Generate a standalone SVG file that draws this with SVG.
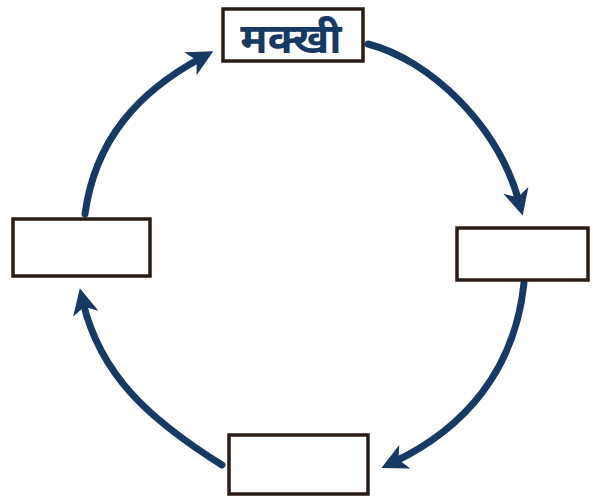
<svg xmlns="http://www.w3.org/2000/svg" width="593" height="500" viewBox="0 0 593 500">
  <style>
    .box { fill: #ffffff; stroke: #2a1c14; stroke-width: 3.5; }
    .flow { fill: none; stroke: #173a64; stroke-width: 7; stroke-linecap: round; marker-end: url(#head); }
    .label { font-family: "Noto Sans Devanagari", "Noto Sans", "DejaVu Sans", sans-serif; font-size: 42px; font-weight: bold; fill: #173a64; }
  </style>
  <defs>
    <marker id="head" markerUnits="userSpaceOnUse" viewBox="-20 -16 40 32" markerWidth="40" markerHeight="32" refX="0" refY="0" orient="auto">
      <path d="M14,0 L-12,-13 L-5,0 L-12,13 Z" fill="#173a64"/>
    </marker>
  </defs>
  <rect width="593" height="500" fill="#ffffff"/>

  <!-- cycle connectors -->
  <g id="connectors">
    <path class="flow" d="M368,44 C430,60 498,125 519,202"/>
    <path class="flow" d="M524,283 C515,370 465,428 394,462"/>
    <path class="flow" d="M222,465 C150,420 100,375 83,302"/>
    <path class="flow" d="M85,214 C95,140 138,92 201,58"/>
  </g>

  <g id="node-top">
    <rect class="box" x="223" y="9" width="140" height="52"/>
    <text class="label" x="291" y="53" text-anchor="middle">मक्खी</text>
  </g>
  <g id="node-right">
    <rect class="box" x="457" y="228" width="131" height="52"/>
  </g>
  <g id="node-bottom">
    <rect class="box" x="229" y="435" width="139" height="59"/>
  </g>
  <g id="node-left">
    <rect class="box" x="13" y="219" width="137" height="57"/>
  </g>
</svg>
